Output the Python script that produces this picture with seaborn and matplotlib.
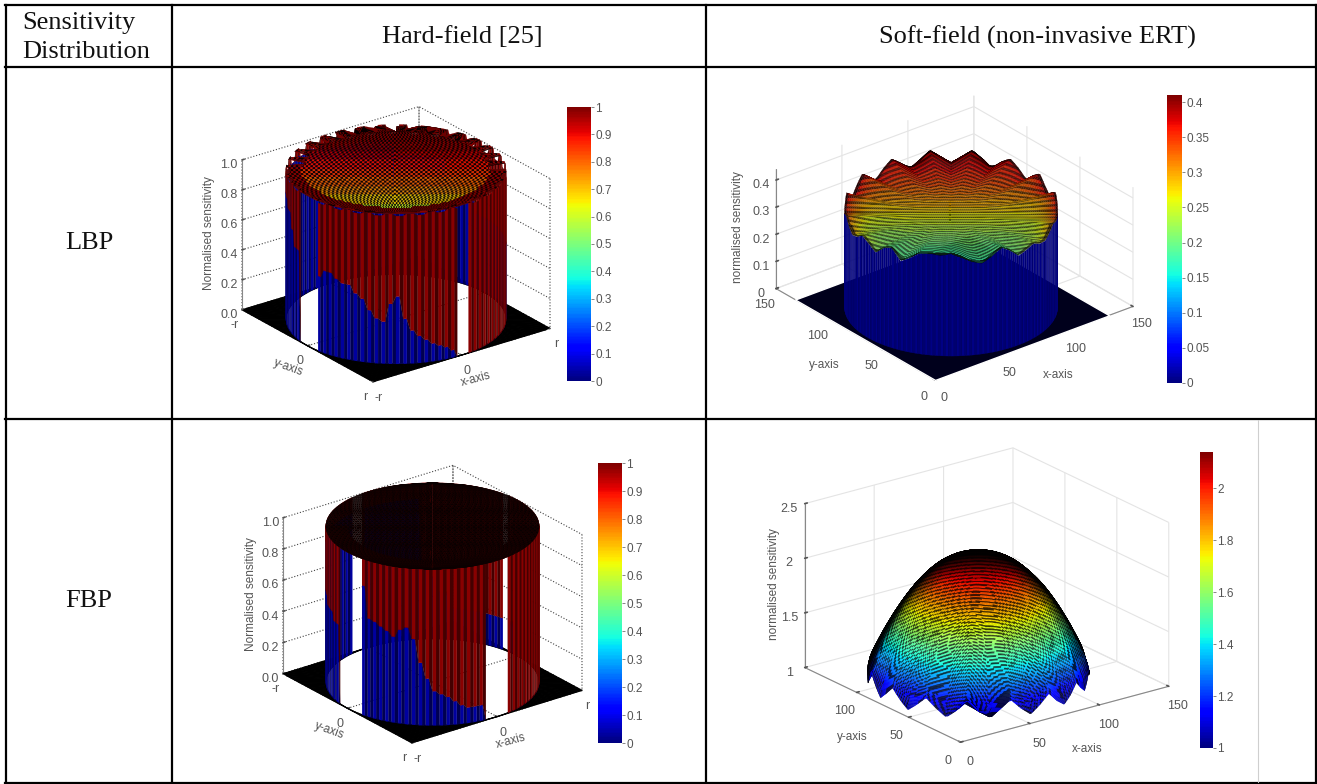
import numpy as np
import matplotlib
matplotlib.use("Agg")
import matplotlib.pyplot as plt
import seaborn as sns
from mpl_toolkits.mplot3d import proj3d

# table text
header_labels = ["Hard-field [25]", "Soft-field (non-invasive ERT)"]
row_labels = ["LBP", "FBP"]
corner_labels = ["Sensitivity", "Distribution"]

# colourbar ticks
unit_ticks = [0, 0.1, 0.2, 0.3, 0.4, 0.5, 0.6, 0.7, 0.8, 0.9, 1]
unit_tick_labels = ["0", "0.1", "0.2", "0.3", "0.4", "0.5", "0.6", "0.7", "0.8", "0.9", "1"]
soft_lbp_ticks = [0, 0.05, 0.1, 0.15, 0.2, 0.25, 0.3, 0.35, 0.4]
soft_lbp_tick_labels = ["0", "0.05", "0.1", "0.15", "0.2", "0.25", "0.3", "0.35", "0.4"]
soft_fbp_ticks = [1, 1.2, 1.4, 1.6, 1.8, 2]
soft_fbp_tick_labels = ["1", "1.2", "1.4", "1.6", "1.8", "2"]

# height of the blue/red change on the hard-field walls, left to right on screen, nan = missing
lbp_front_split = [.85, .85, .85, .8, .8, .7, .6, .6, np.nan, np.nan, np.nan, np.nan,
                   .5, .55, .55, .52, .5, .5, .45, .42, .35, .3, .28, .4,
                   .45, .3, .22, .18, .15, .12, .1, .08, .05, np.nan, np.nan, 0,
                   0, 0, 0, 0, 0, 0, 0, 0, 0, 0, 0, 0]
lbp_back_split = [.95, .95, .95, .95, .95, .95, .95, .95, .95, .95, .95, .95,
                  .95, .9, .9, .9, .9, .9, .9, .9, .9, .9, .9, .9,
                  .8, .8, .8, .8, .8, .8, .8, .7, .7, .6, .6, .6,
                  .5, .5, .5, .5, .5, .5, .5, .5, .5, .5, .5, .5]
fbp_front_split = [.6, .6, .6, .55, .55, .55, .5, .5, np.nan, np.nan, np.nan, np.nan,
                   np.nan, .83, .63, .62, .6, .58, .55, .6, .62, .55, .4, .3,
                   .22, .2, .18, .15, .12, .1, .1, .1, np.nan, np.nan, np.nan, np.nan,
                   0, 0, 0, 0, 0, 0, 0, 0, 0, 0, 0, 0]
fbp_back_split = [.9, .9, .9, .9, .9, .9, .9, .9, .9, .9, .9, np.nan,
                  np.nan, .9, .9, .9, .9, .9, .9, .9, .9, .9, .5, .4,
                  .3, .3, .2, .2, .2, .2, .2, .2, .2, .2, .2, np.nan,
                  .2, 0, 0, 0, 0, 0, 0, 0, 0, 0, 0, 0]

# colour value of the hard-field top face, back to front on screen
lbp_top_values = [1.0, .99, .97, .93, .89, .85, .8, .75, .68, .6]
fbp_top_values = [.97, .97, .97, .97, .97, .97, .97, .97, .97, .97]
# edge of the top face, going round from the screen left through the front
lbp_teeth = [.965, 1.0] * 16 + [.84, 1.0] * 16
fbp_teeth = [1.0, 1.0] * 32

# soft-field rim heights, going round from the screen left through the front
soft_lbp_rim = [.345, .36, .37, .35, .335, .345, .365, .35, .33, .36, .37, .33, .35, .375, .375, .37,
                .378, .365, .345, .335, .355, .38, .36, .33, .34, .35, .335, .33, .345, .36, .35, .345,
                .35, .37, .385, .37, .34, .36, .39, .37, .34, .37, .395, .375, .345, .375, .4, .375,
                .35, .375, .4, .37, .345, .37, .395, .37, .34, .365, .39, .365, .34, .36, .385, .36]
soft_fbp_rim = [1.06, 1.0, 1.07, 1.14, 1.07, 1.0, 1.07, 1.15, 1.07, 1.0, 1.07, 1.15, 1.07, 1.0, 1.07, 1.16,
                1.07, 1.0, 1.08, 1.16, 1.07, 1.0, 1.07, 1.15, 1.06, 1.0, 1.06, 1.14, 1.06, 1.0, 1.06, 1.12,
                1.06, 1.0, 1.05, 1.1, 1.05, 1.0, 1.05, 1.1, 1.05, 1.0, 1.05, 1.1, 1.05, 1.0, 1.05, 1.1,
                1.05, 1.0, 1.05, 1.1, 1.05, 1.0, 1.05, 1.1, 1.05, 1.0, 1.05, 1.1, 1.05, 1.0, 1.05, 1.1]
soft_lbp_flat = 0.345
soft_fbp_centre = 2.14

# LBP soft-field colour value of the disc, back to front on screen
soft_lbp_colours = [.39, .37, .355, .34, .325, .31, .295, .28, .265, .25, .235, .22, .21, .2, .19, .18]

# how far the rim shape reaches in on the LBP soft-field disc, centre to rim
soft_lbp_ripple = [0, 0, 0, 0, 0, 0, 0, 0, .01, .02, .03, .05, .07, .09, .11, .14,
                   .17, .2, .24, .28, .32, .37, .42, .48, .54, .6, .67, .74, .81, .88, .94, 1.0]
# share of the centre-to-rim drop on the FBP soft-field dome, centre to rim
soft_fbp_profile = [0, 0, .001, .002, .003, .006, .009, .013, .017, .022, .028, .035, .043, .052, .062, .073,
                    .084, .096, .11, .125, .141, .158, .176, .195, .214, .234, .255, .277, .3, .325, .35, .377,
                    .405, .434, .464, .495, .526, .56, .595, .629, .665, .703, .742, .782, .822, .865, .909, 1.0]

sns.set_theme(style="white")
plt.rcParams["font.family"] = ["Liberation Sans", "DejaVu Sans"]
jet = matplotlib.colormaps["jet"]

W, H = 1317, 784
fig = plt.figure(figsize=(W / 100, H / 100), dpi=100, facecolor="white")
GREY = "#555555"


def values_to_rgba(values, vmin, vmax):
    return jet((np.asarray(values) - vmin) / (vmax - vmin))


def darken(colors, factor):
    colors = colors.copy()
    colors[..., :3] *= np.asarray(factor)[..., None]
    return colors


def ring_xy(cx, cy, radius, angles, azim):
    phi = np.radians(azim - 90 + angles)
    return cx + np.outer(radius, np.cos(phi)), cy + np.outer(radius, np.sin(phi))


def chord_grid(rows, cols):
    # disc mesh whose rows run across the screen: r in 0..1, t in degrees from screen left through the front
    v = np.linspace(-1, 1, rows + 1)
    s = np.linspace(-1, 1, cols + 1)
    u = np.outer(np.sqrt(1 - v ** 2), s)
    vv = np.repeat(v[:, None], cols + 1, axis=1)
    return np.minimum(np.hypot(u, vv), 1), np.degrees(np.arctan2(vv, -u)) % 360


def cell_mean(a):
    return (a[:-1, :-1] + a[1:, :-1] + a[:-1, 1:] + a[1:, 1:]) / 4


def lookup(values, t):
    values = np.asarray(values)
    return values[(t / 360 * len(values)).astype(int) % len(values)]


def rim_on_mesh(rim, t):
    closed = np.append(rim, rim[0])
    return np.interp(t, np.linspace(0, 360, len(closed)), closed)


def along_radius(profile, r):
    return np.interp(r, np.linspace(0, 1, len(profile)), profile)


def polar_to_xy(r, t, cx, cy, radius, azim):
    phi = np.radians(azim - 90 + t)
    return cx + radius * r * np.cos(phi), cy + radius * r * np.sin(phi)


def new_axes(elev, azim, z_ratio, xlim, zlim, corners, grid_style, pad):
    size = 720
    ax = fig.add_axes([0.1, 0.1, size / W, size / H], projection="3d", proj_type="ortho", computed_zorder=False)
    ax.view_init(elev=elev, azim=azim)
    ax.set_facecolor("none")
    ax.set_xlim(*xlim, view_margin=0)
    ax.set_ylim(*xlim, view_margin=0)
    ax.set_zlim(*zlim, view_margin=0)
    for axis in (ax.xaxis, ax.yaxis, ax.zaxis):
        axis.set_pane_color((1, 1, 1, 0))
        axis.pane.set_edgecolor("none")
        axis.line.set_color("#888888")
        axis.line.set_linewidth(0.8)
        axis._axinfo["grid"].update(grid_style)
        axis._axinfo["tick"]["outward_factor"] = 0.15
        axis._axinfo["tick"]["inward_factor"] = 0.0
    ax.tick_params(colors=GREY, labelsize=9)
    ax.tick_params(axis="x", pad=pad)
    ax.tick_params(axis="y", pad=pad)

    # move and scale the 3d box so its floor corners land on the wanted pixels
    xs = np.array([xlim[0], xlim[0], xlim[1]], float)
    ys = np.array([xlim[1], xlim[0], xlim[0]], float)
    zs = np.full(3, zlim[0], float)
    left, front, right = corners
    zoom = 1.0
    for i in range(4):
        ax.set_box_aspect((1, 1, z_ratio), zoom=zoom)
        ax.apply_aspect()
        px, py, _ = proj3d.proj_transform(xs, ys, zs, ax.get_proj())
        pts = ax.transData.transform(np.column_stack([px, py]))
        if i < 3:
            zoom *= (right[0] - left[0]) / (pts[2, 0] - pts[0, 0])
    want = np.array([[left[0], H - left[1]], [front[0], H - front[1]], [right[0], H - right[1]]])
    shift = (want - pts).mean(axis=0)
    bbox = ax.get_position()
    ax.set_position([bbox.x0 + shift[0] / W, bbox.y0 + shift[1] / H, bbox.width, bbox.height])
    return ax


def draw_hard_wall(ax, azim, split, start, teeth):
    # each read segment is split in two so the vertical stripes come out narrow
    cell_split = np.repeat(np.array(split, float), 2)
    n = len(cell_split)
    angles = start + np.arange(n + 1) * 180 / n
    vert_split = np.nan_to_num(np.append(cell_split, cell_split[-1]))
    X, Y = ring_xy(0, 0, np.ones(3), angles, azim)
    wall_top = 1 - 0.4 * (1 - lookup(teeth, angles % 360))
    Z = np.vstack([np.zeros(n + 1), np.minimum(vert_split, wall_top), wall_top])
    colors = np.zeros((2, n, 4))
    colors[0] = values_to_rgba(np.full(n, 0.03), 0, 1)
    colors[1] = values_to_rgba(np.full(n, 0.99), 0, 1)
    stripe = np.where(np.arange(n) % 2 == 0, 1.0, 0.5)
    colors = darken(colors, np.vstack([stripe, stripe]))
    colors[:, np.isnan(cell_split), 3] = 0
    ax.plot_surface(X, Y, Z, facecolors=colors, rstride=1, cstride=1, shade=False, linewidth=0.2)


def draw_hard_panel(ax, azim, front_split, back_split, top_values, teeth, bright):
    # black floor with a hole where the disc sits
    angles = np.linspace(0, 360, 181)
    phi = np.radians(azim - 90 + angles)
    outer = 1 / np.maximum(np.abs(np.cos(phi)), np.abs(np.sin(phi)))
    X = np.vstack([np.cos(phi), outer * np.cos(phi)])
    Y = np.vstack([np.sin(phi), outer * np.sin(phi)])
    ax.plot_surface(X, Y, np.zeros_like(X), color="black", edgecolor="black", rstride=1, cstride=1,
                    shade=False, linewidth=0.8)

    draw_hard_wall(ax, azim, back_split[::-1], 180, teeth)
    draw_hard_wall(ax, azim, front_split, 0, teeth)

    # dark red lip behind the small notches on the front edge
    X, Y = ring_xy(0, 0, np.array([0.8, 1.0]), np.linspace(0, 180, 61), azim)
    lip = np.full((1, 60, 4), (0.35, 0.02, 0.02, 1.0))
    ax.plot_surface(X, Y, np.ones_like(X), facecolors=lip, rstride=1, cstride=1, shade=False, linewidth=0.2)

    # speckled top face with the notched edge
    rows, cols = 46, 90
    r, t = chord_grid(rows, cols)
    X, Y = polar_to_xy(np.minimum(r, lookup(teeth, t)), t, 0, 0, 1, azim)
    depth = np.outer(np.linspace(-1, 1, rows), np.ones(cols))
    bins = np.clip(((depth + 1) / 2 * len(top_values)).astype(int), 0, len(top_values) - 1)
    values = np.array(top_values)[bins]
    values = np.where(cell_mean(r) > 0.86, np.maximum(values, 0.97), values)
    colors = values_to_rgba(values, 0, 1)
    i, j = np.indices(values.shape)
    colors = darken(colors, np.where((i + j) % 2 == 0, bright, 0.05))
    ax.plot_surface(X, Y, np.ones_like(X), facecolors=colors, rstride=1, cstride=1, shade=False, linewidth=0.2)


def draw_soft_lbp(ax, azim, rim, ripple, flat, colours, cx, cy, radius, vmax, floor_size):
    edge = np.array([0, floor_size])
    X, Y = np.meshgrid(edge, edge)
    ax.plot_surface(X, Y, np.zeros_like(X, dtype=float), color="#00001c", shade=False, rstride=1, cstride=1)

    rim = np.array(rim)
    wall_angles = np.linspace(0, 180, 129)
    fine = rim_on_mesh(rim, wall_angles) - 0.002
    X, Y = ring_xy(cx, cy, np.full(2, radius), wall_angles, azim)
    Z = np.vstack([np.zeros(129), fine])
    colors = values_to_rgba(np.full((1, 128), 0.01), 0, vmax)
    colors = darken(colors, [np.where(np.arange(128) % 2 == 0, 0.85, 0.72)])
    ax.plot_surface(X, Y, Z, facecolors=colors, rstride=1, cstride=1, shade=False, linewidth=0.2)

    rows = 80
    r, t = chord_grid(rows, 110)
    X, Y = polar_to_xy(r, t, cx, cy, radius, azim)
    Z = flat + along_radius(ripple, r) * (rim_on_mesh(rim, t) - flat)
    bins = (np.arange(rows) / rows * len(colours)).astype(int)
    values = np.outer(np.array(colours)[bins], np.ones(110))
    mid_r, mid_t = cell_mean(r), np.radians(cell_mean(t))
    values = values + 0.1 * mid_r ** 10 * np.cos(mid_t) ** 4
    colors = values_to_rgba(values, 0, vmax)
    i, j = np.indices(values.shape)
    edge_dark = np.where(mid_r > 0.975, 0.35, 1.0)
    colors = darken(colors, np.where(i % 2 == 0, 0.72, 0.3) * edge_dark)
    ax.plot_surface(X, Y, Z, facecolors=colors, rstride=1, cstride=1, shade=False, linewidth=0.2)


def draw_soft_fbp(ax, azim, rim, profile, centre, cx, cy, radius, vmin, vmax):
    rim = np.array(rim)
    r, t = chord_grid(260, 120)
    X, Y = polar_to_xy(r, t, cx, cy, radius, azim)
    share = along_radius(profile, r)
    mean_rim = rim.mean()
    Z = centre + share * (mean_rim - centre) + share ** 2 * (rim_on_mesh(rim, t) - mean_rim)
    cell_z = cell_mean(Z)
    colors = values_to_rgba(cell_z, vmin, vmax)
    mid_r, mid_t = cell_mean(r), np.radians(cell_mean(t))
    # mesh lines: nearly level on screen, bending down towards the sides and following the rim bumps
    level = 110 * cell_z - 40 * mid_r * np.sin(mid_t) + 40 * (mid_r * np.cos(mid_t)) ** 2
    lines = np.where((level / 3.4) % 1 < 0.45, 0.25, 1.0)
    # the mesh lines crowd together and go black where the dome turns away
    shade = np.clip(mid_r * np.sin(mid_t) / 0.3, 0.03, 1)
    colors = darken(colors, lines * shade)
    ax.plot_surface(X, Y, Z, facecolors=colors, rstride=1, cstride=1, shade=False, linewidth=0.2)


def add_colorbar(box, vmin, vmax, ticks, tick_labels):
    x0, y0, x1, y1 = box
    cax = fig.add_axes([x0 / W, 1 - y1 / H, (x1 - x0) / W, (y1 - y0) / H])
    gradient = np.linspace(vmax, vmin, 200).reshape(-1, 1)
    sns.heatmap(gradient, ax=cax, cmap=jet, vmin=vmin, vmax=vmax, cbar=False, xticklabels=False, yticklabels=False)
    cax.set_yticks([(vmax - t) / (vmax - vmin) * 200 for t in ticks])
    cax.set_yticklabels(tick_labels, rotation=0, fontsize=8.5, color=GREY)
    cax.yaxis.tick_right()
    cax.tick_params(axis="y", length=2, width=0.5, pad=1, color=GREY, right=True, direction="out")


def set_box_labels(ax, xticks, xlabels, yticks, ylabels, zticks, zlabels, zname, xrot, yrot, pads):
    ax.set_xticks(xticks)
    ax.set_xticklabels(xlabels)
    ax.set_yticks(yticks)
    ax.set_yticklabels(ylabels)
    ax.set_zticks(zticks)
    ax.set_zticklabels(zlabels)
    ax.xaxis.set_rotate_label(False)
    ax.yaxis.set_rotate_label(False)
    ax.zaxis.set_rotate_label(False)
    ax.set_xlabel("x-axis", fontsize=8.5, color=GREY, rotation=xrot, labelpad=pads[0])
    ax.set_ylabel("y-axis", fontsize=8.5, color=GREY, rotation=yrot, labelpad=pads[1])
    ax.set_zlabel(zname, fontsize=8.5, color=GREY, rotation=90, labelpad=pads[2])


dotted = {"color": "#444444", "linestyle": ":", "linewidth": 0.8}
solid = {"color": "#e4e4e4", "linestyle": "-", "linewidth": 0.8}
z_unit = [0, .2, .4, .6, .8, 1.0]
z_unit_labels = ["0.0", "0.2", "0.4", "0.6", "0.8", "1.0"]

# LBP hard-field
ax = new_axes(24, -126.5, 0.745, (-1, 1), (0, 1), [(242, 310), (373, 382), (550, 328)], dotted, 4)
draw_hard_panel(ax, -126.5, lbp_front_split, lbp_back_split, lbp_top_values, lbp_teeth, 0.85)
set_box_labels(ax, [-1, 0, 1], ["-r", "0", "r"], [-1, 0, 1], ["r", "0", "-r"], z_unit, z_unit_labels,
               "Normalised sensitivity", 15, -20, (8, 8, 8))
add_colorbar((567, 107, 591, 381), 0, 1, unit_ticks, unit_tick_labels)

# LBP soft-field
ax = new_axes(27.5, -128.8, 0.53, (0, 150), (0, 0.44), [(776, 287), (935, 380), (1133, 308)], solid, 7)
draw_soft_lbp(ax, -128.8, soft_lbp_rim, soft_lbp_ripple, soft_lbp_flat, soft_lbp_colours, 66, 67, 63, 0.41, 132)
set_box_labels(ax, [0, 50, 100, 150], ["0", "50", "100", "150"], [0, 50, 100, 150], ["0", "50", "100", "150"],
               [0, .1, .2, .3, .4], ["0", "0.1", "0.2", "0.3", "0.4"], "normalised sensitivity", 0, 0, (20, 22, 8))
add_colorbar((1167, 95, 1182, 383), 0, 0.41, soft_lbp_ticks, soft_lbp_tick_labels)

# FBP hard-field
ax = new_axes(24, -127.2, 0.8, (-1, 1), (0, 1), [(283, 672), (412, 743), (582, 692)], dotted, 4)
draw_hard_panel(ax, -127.2, fbp_front_split, fbp_back_split, fbp_top_values, fbp_teeth, 0.12)
set_box_labels(ax, [-1, 0, 1], ["-r", "0", "r"], [-1, 0, 1], ["r", "0", "-r"], z_unit, z_unit_labels,
               "Normalised sensitivity", 15, -20, (8, 8, 8))
add_colorbar((598, 463, 622, 743), 0, 1, unit_ticks, unit_tick_labels)

# FBP soft-field
ax = new_axes(21, -126.8, 0.675, (0, 150), (1, 2.5), [(804, 667), (962, 743), (1168, 686)], solid, 8)
draw_soft_fbp(ax, -126.8, soft_fbp_rim, soft_fbp_profile, soft_fbp_centre, 69, 75, 64, 1, 2.14)
set_box_labels(ax, [0, 50, 100, 150], ["0", "50", "100", "150"], [0, 50, 100], ["0", "50", "100"],
               [1, 1.5, 2, 2.5], ["1", "1.5", "2", "2.5"], "normalised sensitivity", 0, 0, (18, 18, 2))
add_colorbar((1200, 452, 1213, 748), 1, 2.14, soft_fbp_ticks, soft_fbp_tick_labels)

# table grid and text on a pixel-sized overlay
table = fig.add_axes([0, 0, 1, 1], facecolor="none")
table.set_xlim(0, W)
table.set_ylim(H, 0)
table.axis("off")
for y in (5, 67, 419, 783):
    table.plot([5, 1316], [y, y], color="black", lw=1.6, solid_capstyle="projecting")
for x in (6, 172, 706, 1316):
    table.plot([x, x], [5, 783], color="black", lw=1.6, solid_capstyle="projecting")
table.plot([1258, 1258], [420, 782], color="#cfcfcf", lw=0.8)

serif = {"family": "Liberation Serif", "fontsize": 19, "color": "#111111", "va": "center"}
table.text(22, 23, corner_labels[0], ha="left", **serif)
table.text(22, 52, corner_labels[1], ha="left", **serif)
table.text(462, 37, header_labels[0], ha="center", **serif)
table.text(1037, 37, header_labels[1], ha="center", **serif)
table.text(89, 243, row_labels[0], ha="center", **serif)
table.text(89, 601, row_labels[1], ha="center", **serif)

fig.savefig("out.png", dpi=100)
